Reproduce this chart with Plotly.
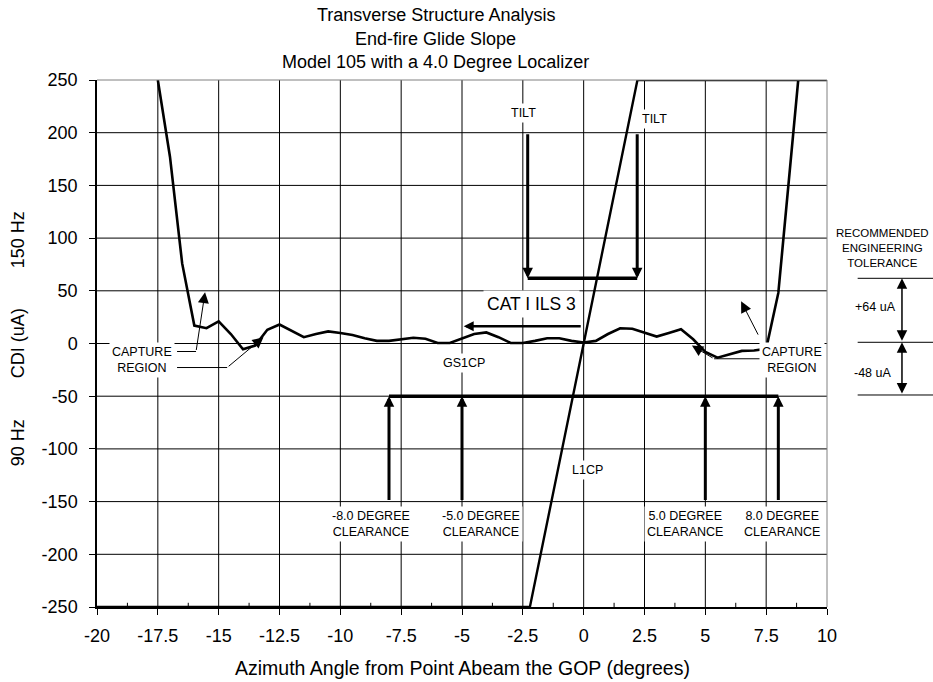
import plotly.graph_objects as go

# ---------------- data ----------------
GS_AZ = [-17.5, -17.0, -16.5, -16.0, -15.5, -15.0, -14.5, -14.0, -13.5, -13.0,
         -12.5, -12.0, -11.5, -11.0, -10.5, -10.0, -9.5, -9.0, -8.5, -8.0,
         -7.5, -7.0, -6.5, -6.0, -5.5, -5.0, -4.5, -4.0, -3.5, -3.0,
         -2.5, -2.0, -1.5, -1.0, -0.5, 0.0, 0.5, 1.0, 1.5, 2.0,
         2.5, 3.0, 3.5, 4.0, 4.5, 5.0, 5.5, 6.0, 6.5, 7.0,
         7.5, 8.0, 8.5, 9.0]
GS_CDI = [250, 177, 76, 17, 14.5, 21, 9, -5.5, -2, 13,
          18, 12, 6, 9, 11.5, 10, 8, 5, 2.5, 2.5,
          4, 5.5, 4.5, 0.5, 0.5, 5, 9, 10.5, 6, 0.5,
          0.5, 2.5, 5, 5, 2.5, 1, 2.5, 9, 14.5, 14,
          10, 6.6, 10, 13.5, 4, -8, -13.5, -10, -7, -6.6,
          -5, 48, 171, 295]

LOC_AZ = [-20, -2.21, 0, 2.21, 10]
LOC_CDI = [-250, -250, 0, 250, 250]

X_TICKS = [-20, -17.5, -15, -12.5, -10, -7.5, -5, -2.5, 0, 2.5, 5, 7.5, 10]
X_TICK_TEXT = ["-20", "-17.5", "-15", "-12.5", "-10", "-7.5", "-5", "-2.5",
               "0", "2.5", "5", "7.5", "10"]
X_MINOR = [-18.75, -16.25, -13.75, -11.25, -8.75, -6.25, -3.75, -1.25,
           1.25, 3.75, 6.25, 8.75]
Y_TICKS = [250, 200, 150, 100, 50, 0, -50, -100, -150, -200, -250]
Y_TICK_TEXT = ["250", "200", "150", "100", "50", "0", "-50", "-100", "-150",
               "-200", "-250"]

TILT_AZ = [-2.3, 2.2]
TILT_TOP = 200
TILT_LEVEL = 62
TILT_LABEL_AZ = [-2.46, 2.9]
TILT_LABEL_CDI = [219, 213]

CLEAR_AZ = [-8.0, -5.0, 5.0, 8.0]
CLEAR_LEVEL = -50
CLEAR_BOTTOM = -150
CLEAR_LABEL_AZ = [-8.75, -4.2, 4.15, 8.15]
CLEAR_LABEL_CDI = -171
CLEAR_LABELS = ["-8.0 DEGREE<br>CLEARANCE", "-5.0 DEGREE<br>CLEARANCE",
                "5.0 DEGREE<br>CLEARANCE", "8.0 DEGREE<br>CLEARANCE"]

CAT_ARROW_AZ = [-0.06, -4.93]
CAT_ARROW_CDI = 16.4

TOL_TEXTS = ["+64 uA", "-48 uA"]

FONT = "Liberation Sans, Arial, Helvetica, sans-serif"

fig = go.Figure()
fig.add_trace(go.Scatter(x=LOC_AZ, y=LOC_CDI, mode="lines",
                         line=dict(color="black", width=2.4), hoverinfo="skip"))
fig.add_trace(go.Scatter(x=GS_AZ, y=GS_CDI, mode="lines",
                         line=dict(color="black", width=2.6), hoverinfo="skip"))

ann = []
shapes = []

# grid (from the tick arrays) and minor ticks
for xv in X_TICKS[1:-1]:
    shapes.append(dict(type="line", xref="x", yref="paper", x0=xv, x1=xv, y0=0, y1=1,
                       layer="below", line=dict(color="black", width=1)))
for yv in Y_TICKS[1:-1]:
    shapes.append(dict(type="line", xref="paper", yref="y", x0=0, x1=1, y0=yv, y1=yv,
                       layer="below", line=dict(color="black", width=1)))
for xm in X_MINOR:
    shapes.append(dict(type="line", xref="x", yref="paper", x0=xm, x1=xm, y0=0, y1=0.008,
                       layer="above", line=dict(color="black", width=1)))

def arrow(hx, hy, tx, ty, w, size):
    ann.append(dict(x=hx, y=hy, ax=tx, ay=ty, xref="x", yref="y",
                    axref="x", ayref="y", text="", showarrow=True,
                    arrowhead=2, arrowwidth=w, arrowsize=size,
                    arrowcolor="black"))

def label(x, y, text, size=12.5, xref="x", yref="y", pad=2):
    ann.append(dict(x=x, y=y, xref=xref, yref=yref, text=text, showarrow=False,
                    xanchor="center", yanchor="middle",
                    font=dict(family=FONT, size=size, color="black"),
                    bgcolor="white", borderpad=pad, align="center"))

for i in range(2):
    label(TILT_LABEL_AZ[i], TILT_LABEL_CDI[i], "TILT")
    arrow(TILT_AZ[i], TILT_LEVEL, TILT_AZ[i], TILT_TOP, 3, 0.7)
shapes.append(dict(type="line", xref="x", yref="y", x0=TILT_AZ[0], x1=TILT_AZ[1],
                   y0=TILT_LEVEL, y1=TILT_LEVEL, line=dict(color="black", width=3.5)))

label(-2.14, 37.7, "CAT I ILS 3", size=17.5, pad=3)
arrow(CAT_ARROW_AZ[1], CAT_ARROW_CDI, CAT_ARROW_AZ[0], CAT_ARROW_CDI, 2.5, 0.8)

label(-4.93, -18.7, "GS1CP")
label(0.15, -120, "L1CP")

shapes.append(dict(type="line", xref="x", yref="y", x0=CLEAR_AZ[0], x1=CLEAR_AZ[-1],
                   y0=CLEAR_LEVEL, y1=CLEAR_LEVEL, line=dict(color="black", width=3.5)))
for i, xa in enumerate(CLEAR_AZ):
    arrow(xa, CLEAR_LEVEL, xa, CLEAR_BOTTOM, 3, 0.7)
    label(CLEAR_LABEL_AZ[i], CLEAR_LABEL_CDI, CLEAR_LABELS[i])

label(-18.15, -15.3, "CAPTURE<br>REGION")
shapes.append(dict(type="line", xref="x", yref="y", x0=-16.71, x1=-15.93, y0=-7.6, y1=-7.6,
                   line=dict(color="black", width=1)))
arrow(-15.56, 48.7, -15.93, -7.6, 1, 2.2)
shapes.append(dict(type="line", xref="x", yref="y", x0=-16.71, x1=-14.65, y0=-22.8, y1=-22.8,
                   line=dict(color="black", width=1)))
arrow(-13.16, 6, -14.65, -22.8, 1, 2.2)

shapes.append(dict(type="line", xref="x", yref="y", x0=7.3, x1=5.36, y0=-14.5, y1=-14.5,
                   line=dict(color="black", width=1)))
arrow(4.45, -2, 5.36, -14.5, 1, 2.2)
label(8.57, -16, "CAPTURE<br>REGION")
arrow(6.47, 40, 7.2, 7, 1, 2.2)

label(1.0764, 0.682, "RECOMMENDED<br>ENGINEERING<br>TOLERANCE", size=11.5,
      xref="paper", yref="paper", pad=0)
for yp in [0.6237, 0.5023, 0.4023]:
    shapes.append(dict(type="line", xref="paper", yref="paper", x0=1.042, x1=1.15,
                       y0=yp, y1=yp, line=dict(color="black", width=1)))
label(1.066, 0.570, TOL_TEXTS[0], size=12.5, xref="paper", yref="paper", pad=0)
label(1.062, 0.444, TOL_TEXTS[1], size=12.5, xref="paper", yref="paper", pad=0)
for yp, dy in [(0.6237, 64), (0.5023, 52.7)]:
    ann.append(dict(x=1.1027, y=yp, xref="paper", yref="paper", ax=0, ay=dy,
                    text="", showarrow=True, arrowside="end+start",
                    arrowhead=2, startarrowhead=2, arrowwidth=1.5,
                    arrowsize=1.4, startarrowsize=1.4, arrowcolor="black"))

shapes.append(dict(type="line", xref="paper", yref="paper", x0=0, x1=1, y0=1, y1=1,
                   line=dict(color="#808080", width=1)))
shapes.append(dict(type="line", xref="paper", yref="paper", x0=1, x1=1, y0=0, y1=1,
                   line=dict(color="#808080", width=1)))

for yp, t in [(1.1233, "Transverse Structure Analysis"), (1.0778, "End-fire Glide Slope"),
              (1.0342, "Model 105 with a 4.0 Degree Localizer")]:
    ann.append(dict(x=0.464, y=yp, xref="paper", yref="paper", text=t, showarrow=False,
                    xanchor="center", yanchor="middle",
                    font=dict(family=FONT, size=18, color="black")))
ann.append(dict(x=0.5, y=-0.1157, xref="paper", yref="paper",
                text="Azimuth Angle from Point Abeam the GOP (degrees)", showarrow=False,
                xanchor="center", yanchor="middle",
                font=dict(family=FONT, size=19.5, color="black")))
for yp, t in [(0.696, "150 Hz"), (0.501, "CDI (uA)"), (0.311, "90 Hz")]:
    ann.append(dict(x=-0.108, y=yp, xref="paper", yref="paper", text=t, showarrow=False,
                    xanchor="center", yanchor="middle",
                    textangle=-90, font=dict(family=FONT, size=18, color="black")))

fig.update_layout(
    width=933, height=682,
    margin=dict(l=97, r=106, t=80, b=75),
    paper_bgcolor="white", plot_bgcolor="white",
    template="none",
    showlegend=False,
    font=dict(family=FONT, size=18, color="black"),
    annotations=ann, shapes=shapes,
    xaxis=dict(range=[-20, 10], tickmode="array", tickvals=X_TICKS, ticktext=X_TICK_TEXT,
               showgrid=False, zeroline=False,
               showline=True, linecolor="black", linewidth=1.5,
               ticks="outside", ticklen=6, tickcolor="black", tickwidth=1,
               ticklabelstandoff=6,
               tickfont=dict(family=FONT, size=18)),
    yaxis=dict(range=[-250, 250], tickmode="array", tickvals=Y_TICKS, ticktext=Y_TICK_TEXT,
               showgrid=False, zeroline=False,
               showline=True, linecolor="black", linewidth=1.5,
               ticks="outside", ticklen=6, tickcolor="black", tickwidth=1,
               ticklabelstandoff=8,
               tickfont=dict(family=FONT, size=18)),
)

fig.write_html("out.html")
